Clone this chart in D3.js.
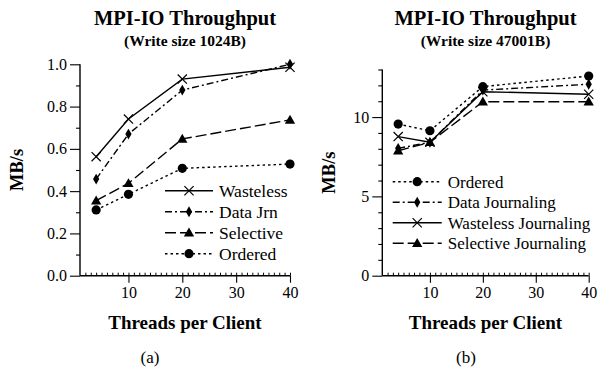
<!DOCTYPE html>
<html>
<head>
<meta charset="utf-8">
<script src="https://cdn.jsdelivr.net/npm/d3@7"></script>
<style>
  html, body { margin: 0; padding: 0; background: #fff; }
  svg text { font-family: "Liberation Serif", "Times New Roman", serif !important; fill: #000; }
</style>
</head>
<body>
<svg id="fig" width="598" height="369" font-family="Liberation Serif"></svg>
<script>
// Threads per client (x values shared by both panels)
const threads = [4, 10, 20, 40];

// Panel (a): write size 1024B, MB/s
const seriesA = ["Wasteless", "Data Jrn", "Selective", "Ordered"];
const wastelessA = [0.563, 0.741, 0.930, 0.986];
const dataJrnA   = [0.457, 0.670, 0.878, 1.000];
const selectiveA = [0.355, 0.437, 0.647, 0.737];
const orderedA   = [0.311, 0.385, 0.508, 0.528];
const yTicksA = [0.0, 0.2, 0.4, 0.6, 0.8, 1.0];

// Panel (b): write size 47001B, MB/s
const seriesB = ["Ordered", "Data Journaling", "Wasteless Journaling", "Selective Journaling"];
const orderedB   = [9.56, 9.14, 11.92, 12.59];
const dataJrnB   = [8.03, 8.41, 11.70, 12.07];
const wastelessB = [8.77, 8.41, 11.60, 11.44];
const selectiveB = [7.88, 8.41, 10.97, 10.97];
const yTicksB = [0, 5, 10];

const xTicks = [10, 20, 30, 40];

const FONT = "Liberation Serif";

// Line / marker style per series kind
const styles = {
  wasteless: { dash: null, marker: "x" },
  data:      { dash: "7,3,2,3", marker: "diamond" },
  selective: { dash: "11,4", marker: "triangle" },
  ordered:   { dash: "2.5,3", marker: "circle" }
};

const svg = d3.select("#fig");

function drawMarker(g, kind, x, y) {
  if (kind === "circle") {
    g.append("circle").attr("cx", x).attr("cy", y).attr("r", 4.6).attr("fill", "#000");
  } else if (kind === "diamond") {
    g.append("path").attr("d", d3.symbol(d3.symbolDiamond, 34)())
      .attr("transform", `translate(${x},${y})`).attr("fill", "#000");
  } else if (kind === "triangle") {
    g.append("path").attr("d", d3.symbol(d3.symbolTriangle, 46)())
      .attr("transform", `translate(${x},${y + 0.8})`).attr("fill", "#000");
  } else if (kind === "x") {
    const s = 4.6;
    g.append("path")
      .attr("d", `M${x - s},${y - s}L${x + s},${y + s}M${x - s},${y + s}L${x + s},${y - s}`)
      .attr("stroke", "#000").attr("stroke-width", 1.2).attr("fill", "none");
  }
}

function label(g, x, y, txt, size, bold, anchor) {
  return g.append("text").attr("x", x).attr("y", y)
    .attr("text-anchor", anchor || "middle")
    .attr("font-family", FONT).attr("font-size", size)
    .attr("font-weight", bold ? "bold" : "normal").text(txt);
}

function panel(opt) {
  const g = svg.append("g");
  const x = d3.scaleLinear().domain([1, 40]).range([opt.left, opt.right]);
  const y = d3.scaleLinear().domain([0, opt.yMax]).range([opt.bottom, opt.top]);

  // y axis: major ticks outward with labels, minor ticks between
  const yAxis = d3.axisLeft(y).tickValues(opt.yTicks).tickSize(10).tickPadding(3)
    .tickFormat(opt.yFormat);
  const ya = g.append("g").attr("transform", `translate(${opt.left},0)`).call(yAxis)
    .attr("font-family", FONT).attr("font-size", 16);
  ya.select(".domain").remove();
  ya.selectAll("line").attr("stroke-width", 1.1);
  g.append("g").attr("transform", `translate(${opt.left},0)`)
    .call(d3.axisLeft(y).tickValues(opt.yMinor).tickSize(4).tickFormat(""))
    .call(s => s.select(".domain").remove())
    .selectAll("line").attr("stroke-width", 1.1);
  g.append("line").attr("x1", opt.left).attr("x2", opt.left)
    .attr("y1", y(0)).attr("y2", y(opt.yMax)).attr("stroke", "#000").attr("stroke-width", 1.4);

  // x axis: minor ticks inward every unit, major ticks below the line
  g.append("g").attr("transform", `translate(0,${opt.bottom})`)
    .call(d3.axisTop(x).tickValues(d3.range(2, 41)).tickSize(3).tickFormat(""))
    .call(s => s.select(".domain").remove())
    .selectAll("line").attr("stroke-width", 1);
  const xa = g.append("g").attr("transform", `translate(0,${opt.bottom})`)
    .call(d3.axisBottom(x).tickValues(xTicks).tickSize(7).tickPadding(4))
    .attr("font-family", FONT).attr("font-size", 16);
  xa.select(".domain").remove();
  xa.selectAll("line").attr("stroke-width", 1.1);
  g.append("line").attr("x1", opt.left).attr("x2", opt.right)
    .attr("y1", opt.bottom).attr("y2", opt.bottom).attr("stroke", "#000").attr("stroke-width", 1.4);

  // series lines
  const line = d3.line().x((d, i) => x(threads[i])).y(d => y(d));
  opt.series.forEach(s => {
    const st = styles[s.kind];
    g.append("path").datum(s.values).attr("d", line)
      .attr("fill", "none").attr("stroke", "#000").attr("stroke-width", 1.4)
      .attr("stroke-dasharray", st.dash);
  });
  opt.series.forEach(s => {
    s.values.forEach((v, i) => drawMarker(g, styles[s.kind].marker, x(threads[i]), y(v)));
  });

  // legend
  opt.legendNames.forEach((name, i) => {
    const s = opt.series.find(d => d.name === name);
    const st = styles[s.kind];
    const ly = opt.legendY + i * opt.legendStep;
    g.append("line").attr("x1", opt.legendX).attr("x2", opt.legendX + opt.legendLen)
      .attr("y1", ly).attr("y2", ly).attr("stroke", "#000").attr("stroke-width", 1.4)
      .attr("stroke-dasharray", st.dash);
    drawMarker(g, st.marker, opt.legendX + opt.legendLen / 2, ly);
    label(g, opt.legendX + opt.legendLen + 6, ly + 6, name, opt.legendSize, false, "start");
  });

  // titles
  const cx = (opt.left + opt.right) / 2;
  label(g, cx, 25, "MPI-IO Throughput", 20.5, true);
  label(g, cx, 45.5, opt.subtitle, 15.5, true);
  label(g, cx, 329, "Threads per Client", 19, true);
  label(g, 0, 0, "MB/s", 18.5, true)
    .attr("transform", `translate(${opt.yLabelX},${(opt.top + opt.bottom) / 2}) rotate(-90)`);
  label(g, opt.capX, 363, opt.caption, 17, false);
}

panel({
  left: 80, right: 290, top: 64.3, bottom: 275.7, yMax: 1.0,
  yTicks: yTicksA, yMinor: [0.1, 0.3, 0.5, 0.7, 0.9], yFormat: d3.format(".1f"),
  series: [
    { name: "Wasteless", kind: "wasteless", values: wastelessA },
    { name: "Data Jrn", kind: "data", values: dataJrnA },
    { name: "Selective", kind: "selective", values: selectiveA },
    { name: "Ordered", kind: "ordered", values: orderedA }
  ],
  legendNames: seriesA, legendX: 165, legendLen: 48, legendY: 190.7, legendStep: 21,
  legendSize: 17.5,
  subtitle: "(Write size 1024B)", yLabelX: 23, caption: "(a)", capX: 150
});

panel({
  left: 382.3, right: 588.7, top: 69.5, bottom: 275.7, yMax: 13,
  yTicks: yTicksB, yMinor: [1, 2, 3, 4, 6, 7, 8, 9, 11, 12, 13], yFormat: d3.format("d"),
  series: [
    { name: "Ordered", kind: "ordered", values: orderedB },
    { name: "Data Journaling", kind: "data", values: dataJrnB },
    { name: "Wasteless Journaling", kind: "wasteless", values: wastelessB },
    { name: "Selective Journaling", kind: "selective", values: selectiveB }
  ],
  legendNames: seriesB, legendX: 392.7, legendLen: 49, legendY: 181.7, legendStep: 20.5,
  legendSize: 17,
  subtitle: "(Write size 47001B)", yLabelX: 335, caption: "(b)", capX: 466
});
</script>
</body>
</html>
